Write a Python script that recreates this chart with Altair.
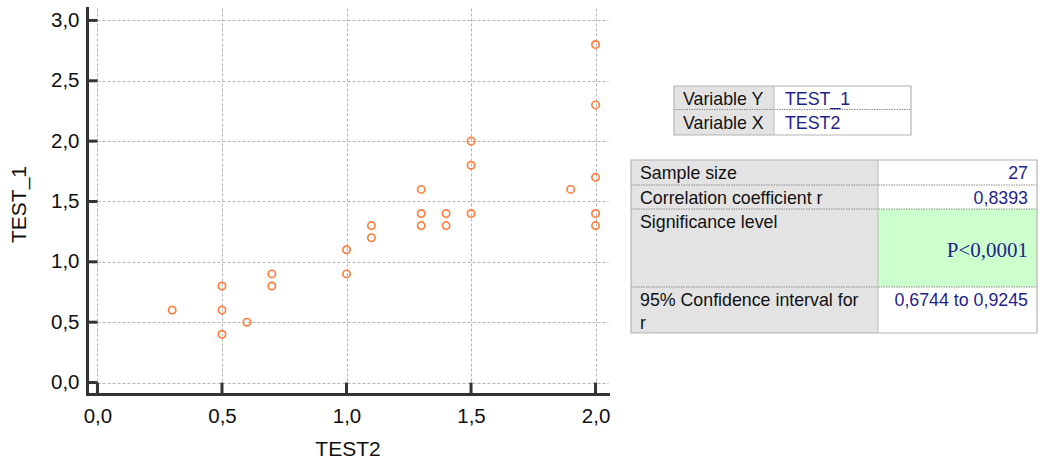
import altair as alt
import pandas as pd

# ---------------- data ----------------
test2 = [0.3, 0.5, 0.5, 0.5, 0.6, 0.7, 0.7, 1.0, 1.0, 1.1, 1.1, 1.3, 1.3, 1.3,
         1.4, 1.4, 1.5, 1.5, 1.5, 1.9, 2.0, 2.0, 2.0, 2.0, 2.0]
test1 = [0.6, 0.4, 0.6, 0.8, 0.5, 0.8, 0.9, 0.9, 1.1, 1.2, 1.3, 1.3, 1.4, 1.6,
         1.3, 1.4, 1.4, 1.8, 2.0, 1.6, 1.3, 1.4, 1.7, 2.3, 2.8]
x_ticks = [0, 0.5, 1.0, 1.5, 2.0]
y_ticks = [0, 0.5, 1.0, 1.5, 2.0, 2.5, 3.0]

var_labels = ["Variable Y", "Variable X"]
var_values = ["TEST_1", "TEST2"]
stat_labels = ["Sample size", "Correlation coefficient r", "Significance level",
               "95% Confidence interval for\nr"]
stat_values = ["27", "0,8393", "P<0,0001", "0,6744 to 0,9245"]

# ---------------- layout ----------------
X_DOMAIN = [-0.042, 2.05]
Y_DOMAIN = [-0.095, 3.103]
W, H = 521, 386
PAD = {"left": 87, "top": 8, "right": 432, "bottom": 66}

T1_COLS = [587, 687, 824]
T1_ROWS = [78, 101.5, 127]
T2_COLS = [544, 791, 950]
T2_ROWS = [152, 177, 201, 279, 325]
HIGHLIGHT_ROW = 2

GRAY = "#e3e3e3"
GREEN = "#ccffcc"
NAVY = "#1f1f8c"
INK = "#111111"
AXIS = "#333333"
FONT = "Liberation Sans"
TFS = 17.8

label_expr = "replace(format(datum.value, '.1f'), '.', ',')"

# ---------------- scatter ----------------
pts = pd.DataFrame({"TEST2": test2, "TEST_1": test1})
xs = alt.Scale(domain=X_DOMAIN, nice=False, zero=False)
ys = alt.Scale(domain=Y_DOMAIN, nice=False, zero=False)

points = alt.Chart(pts).mark_point(
    shape="circle", filled=False, size=54, strokeWidth=1.7,
    color="#ff7f3f", opacity=1
).encode(
    x=alt.X("TEST2:Q", scale=xs, title="TEST2",
            axis=alt.Axis(values=x_ticks, labelExpr=label_expr, ticks=False, tickSize=0,
                          labelPadding=12, titleY=61, titleBaseline="alphabetic")),
    y=alt.Y("TEST_1:Q", scale=ys, title="TEST_1",
            axis=alt.Axis(values=y_ticks, labelExpr=label_expr, ticks=False, tickSize=0,
                          labelPadding=8, titleX=-62, titleY=196, titleAngle=270,
                          titleBaseline="alphabetic")),
)

xt = pd.DataFrame({"TEST2": x_ticks, "a": Y_DOMAIN[0], "b": 0.0})
yt = pd.DataFrame({"TEST_1": y_ticks, "a": X_DOMAIN[0], "b": 0.0})

xtick_rules = alt.Chart(xt).mark_rule(color=AXIS, strokeWidth=3).encode(
    x=alt.X("TEST2:Q", scale=xs), y=alt.Y("a:Q", scale=ys), y2="b:Q")
ytick_rules = alt.Chart(yt).mark_rule(color=AXIS, strokeWidth=3).encode(
    y=alt.Y("TEST_1:Q", scale=ys), x=alt.X("a:Q", scale=xs), x2="b:Q")

plot = alt.layer(points, xtick_rules, ytick_rules)

# ---------------- tables ----------------
cells, texts_l, texts_r, texts_v, seps = [], [], [], [], []

for i, (lab, val) in enumerate(zip(var_labels, var_values)):
    y0, y1 = T1_ROWS[i], T1_ROWS[i + 1]
    cells.append(dict(x0=T1_COLS[0], x1=T1_COLS[1], y0=y0, y1=y1, fill=GRAY))
    cells.append(dict(x0=T1_COLS[1], x1=T1_COLS[2], y0=y0, y1=y1, fill="white"))
    texts_l.append(dict(x=T1_COLS[0] + 9, y=y0 + 19, t=lab))
    texts_v.append(dict(x=T1_COLS[1] + 11, y=y0 + 19, t=val))
    if i > 0:
        seps.append(dict(x0=T1_COLS[0], x1=T1_COLS[2], y0=y0, y1=y0))

for i, (lab, val) in enumerate(zip(stat_labels, stat_values)):
    y0, y1 = T2_ROWS[i], T2_ROWS[i + 1]
    cells.append(dict(x0=T2_COLS[0], x1=T2_COLS[1], y0=y0, y1=y1, fill=GRAY))
    cells.append(dict(x0=T2_COLS[1], x1=T2_COLS[2], y0=y0, y1=y1,
                      fill=GREEN if i == HIGHLIGHT_ROW else "white"))
    for j, line in enumerate(lab.split("\n")):
        texts_l.append(dict(x=T2_COLS[0] + 9, y=y0 + 18.5 + 23 * j, t=line))
    if i == HIGHLIGHT_ROW:
        texts_r.append(dict(x=T2_COLS[2] - 9, y=(y0 + y1) / 2 + 9, t=val, serif=True))
    else:
        texts_r.append(dict(x=T2_COLS[2] - 9, y=y0 + 18.5, t=val, serif=False))
    if i > 0:
        seps.append(dict(x0=T2_COLS[0], x1=T2_COLS[2], y0=y0, y1=y0))

cell_df = pd.DataFrame(cells)
sep_df = pd.DataFrame(seps)
outline_df = pd.DataFrame([
    dict(x0=T1_COLS[0], x1=T1_COLS[2], y0=T1_ROWS[0], y1=T1_ROWS[-1]),
    dict(x0=T2_COLS[0], x1=T2_COLS[2], y0=T2_ROWS[0], y1=T2_ROWS[-1]),
])
vdiv_df = pd.DataFrame([
    dict(x0=T1_COLS[1], y0=T1_ROWS[0], y1=T1_ROWS[-1]),
    dict(x0=T2_COLS[1], y0=T2_ROWS[0], y1=T2_ROWS[-1]),
])

def px(f):
    return alt.X(f, scale=None, axis=None)

def py(f):
    return alt.Y(f, scale=None, axis=None)

cell_layer = alt.Chart(cell_df).mark_rect(strokeWidth=0).encode(
    x=px("x0:Q"), x2="x1:Q", y=py("y0:Q"), y2="y1:Q",
    color=alt.Color("fill:N", scale=None))
outline_layer = alt.Chart(outline_df).mark_rect(
    fill=None, stroke="#b4b4b4", strokeWidth=1.2).encode(
    x=px("x0:Q"), x2="x1:Q", y=py("y0:Q"), y2="y1:Q")
sep_layer = alt.Chart(sep_df).mark_rule(
    color="#8c8c8c", strokeWidth=1, strokeDash=[1.5, 1]).encode(
    x=px("x0:Q"), x2="x1:Q", y=py("y0:Q"))
vdiv_layer = alt.Chart(vdiv_df).mark_rule(color="#c4c4c4", strokeWidth=1.2).encode(
    x=px("x0:Q"), y=py("y0:Q"), y2="y1:Q")

lab_layer = alt.Chart(pd.DataFrame(texts_l)).mark_text(
    align="left", baseline="alphabetic", font=FONT, fontSize=TFS, color=INK).encode(
    x=px("x:Q"), y=py("y:Q"), text="t:N")
var_layer = alt.Chart(pd.DataFrame(texts_v)).mark_text(
    align="left", baseline="alphabetic", font=FONT, fontSize=TFS, color=NAVY).encode(
    x=px("x:Q"), y=py("y:Q"), text="t:N")
tr = pd.DataFrame(texts_r)
val_layer = alt.Chart(tr[~tr.serif]).mark_text(
    align="right", baseline="alphabetic", font=FONT, fontSize=TFS, color=NAVY).encode(
    x=px("x:Q"), y=py("y:Q"), text="t:N")
pval_layer = alt.Chart(tr[tr.serif]).mark_text(
    align="right", baseline="alphabetic", font="Liberation Serif", fontSize=21,
    color=NAVY).encode(
    x=px("x:Q"), y=py("y:Q"), text="t:N")

table = alt.layer(cell_layer, sep_layer, vdiv_layer, outline_layer,
                  lab_layer, var_layer, val_layer, pval_layer)

chart = alt.layer(plot, table).resolve_scale(
    x="independent", y="independent"
).properties(
    width=W, height=H, padding=PAD,
    autosize=alt.AutoSizeParams(type="none"),
).configure_view(stroke=None).configure_axis(
    labelFont=FONT, labelFontSize=20.5, labelColor=INK,
    titleFont=FONT, titleFontSize=21, titleFontWeight="normal", titleColor=INK,
    domainColor=AXIS, domainWidth=3, domainCap="square",
    gridColor="#b4b4b4", gridDash=[3, 2], gridWidth=1,
)

chart.save("out.html", embed_options={"renderer": "svg", "actions": False})
